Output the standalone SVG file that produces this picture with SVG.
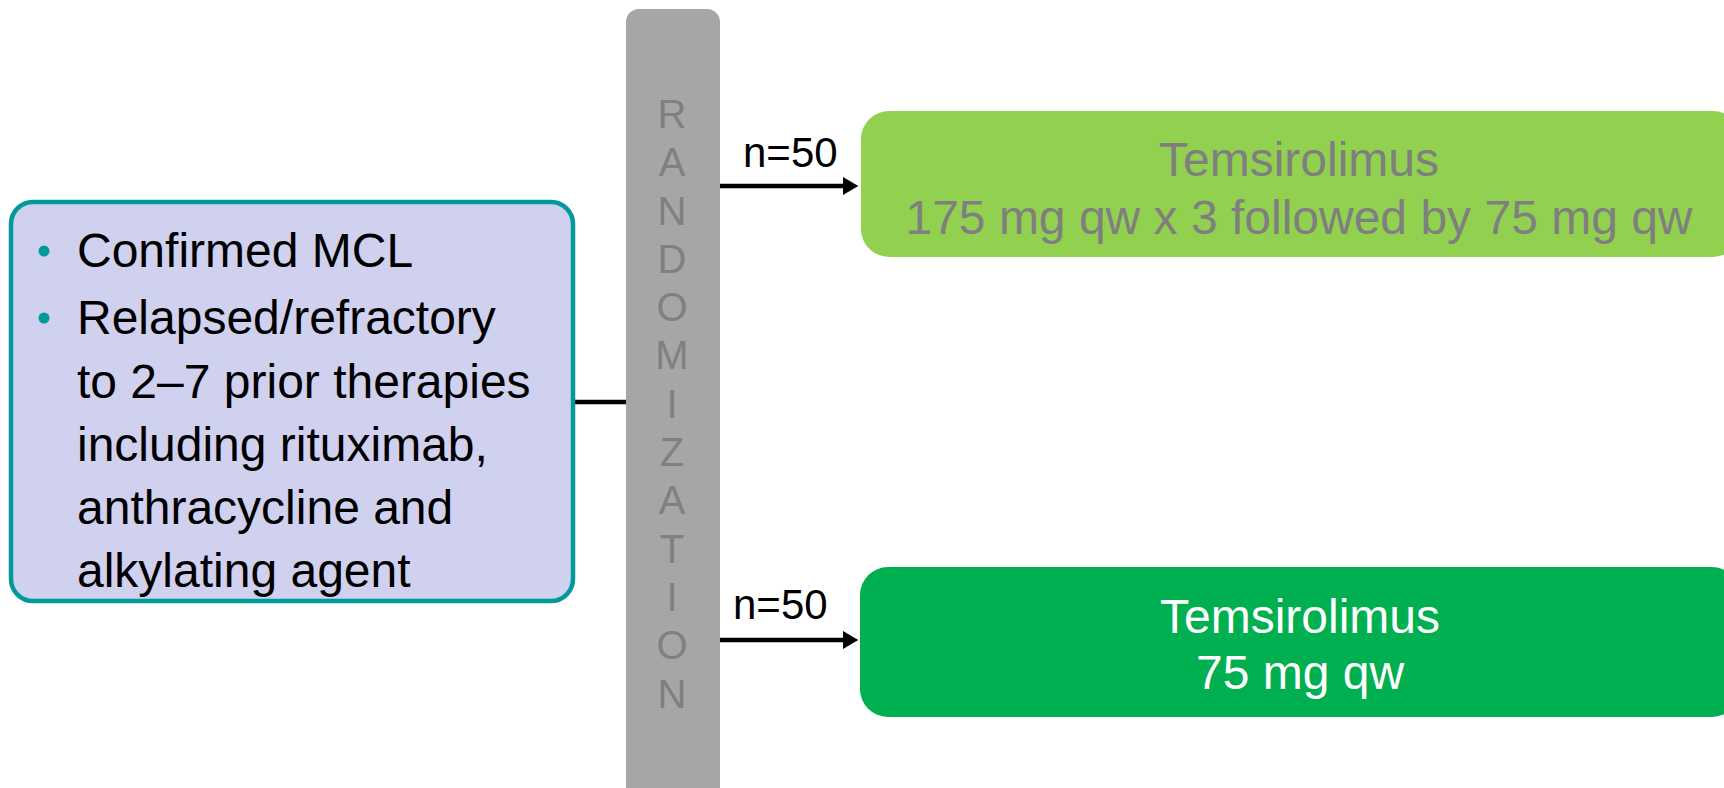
<svg xmlns="http://www.w3.org/2000/svg" width="1724" height="788" viewBox="0 0 1724 788">
<defs>
<marker id="ah" markerWidth="4" markerHeight="4" refX="0" refY="2" orient="auto" markerUnits="strokeWidth">
<path d="M0,0 L3.4,2 L0,4 Z" fill="#000"/>
</marker>
<style>
.t{font-family:"Liberation Sans",Arial,sans-serif}
.conn{stroke:#000;stroke-width:4.5;fill:none}
</style>
</defs>
<rect width="1724" height="788" fill="#fff"/>
<g id="connectors">
<line class="conn" x1="574" y1="402" x2="628" y2="402"/>
<line class="conn" x1="718" y1="186" x2="843" y2="186" marker-end="url(#ah)"/>
<line class="conn" x1="718" y1="640" x2="843" y2="640" marker-end="url(#ah)"/>
</g>
<g id="criteria">
<rect x="11" y="202" width="562" height="399" rx="22" fill="#D0D0EF" stroke="#009A9A" stroke-width="4.5"/>
<circle cx="44" cy="251" r="5.5" fill="#009A9A"/>
<circle cx="44" cy="318" r="5.5" fill="#009A9A"/>
<g class="t" font-size="48" fill="#000">
<text x="77" y="267">Confirmed MCL</text>
<text x="77" y="334">Relapsed/refractory</text>
<text x="77" y="398">to 2–7 prior therapies</text>
<text x="77" y="461">including rituximab,</text>
<text x="77" y="524">anthracycline and</text>
<text x="77" y="587">alkylating agent</text>
</g>
</g>
<g id="randomization">
<rect x="626" y="9" width="94" height="800" rx="13" fill="#A6A6A6"/>
<g class="t" font-size="40" fill="#808080" text-anchor="middle">
<text x="672" y="128">R</text>
<text x="672" y="176">A</text>
<text x="672" y="225">N</text>
<text x="672" y="273">D</text>
<text x="672" y="321">O</text>
<text x="672" y="369">M</text>
<text x="672" y="418">I</text>
<text x="672" y="466">Z</text>
<text x="672" y="514">A</text>
<text x="672" y="563">T</text>
<text x="672" y="611">I</text>
<text x="672" y="659">O</text>
<text x="672" y="708">N</text>
</g>
</g>
<g id="label-top">
<text class="t" x="743" y="167" font-size="42" fill="#000">n=50</text>
</g>
<g id="label-bottom">
<text class="t" x="733" y="619" font-size="42" fill="#000">n=50</text>
</g>
<g id="arm1">
<rect x="861" y="111" width="880" height="146" rx="28" fill="#92D050"/>
<g class="t" font-size="48" fill="#7F7F7F" text-anchor="middle">
<text x="1299" y="176">Temsirolimus</text>
<text x="1299" y="234">175 mg qw x 3 followed by 75 mg qw</text>
</g>
</g>
<g id="arm2">
<rect x="860" y="567" width="880" height="150" rx="28" fill="#00B050"/>
<g class="t" font-size="48" fill="#FFFFFF" text-anchor="middle">
<text x="1300" y="633">Temsirolimus</text>
<text x="1300" y="689">75 mg qw</text>
</g>
</g>
</svg>
